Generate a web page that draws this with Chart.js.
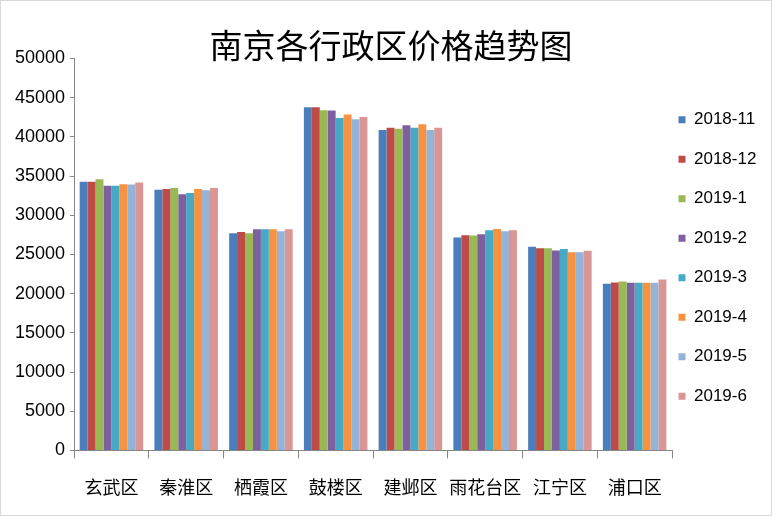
<!DOCTYPE html>
<html>
<head>
<meta charset="utf-8">
<script src="https://cdn.jsdelivr.net/npm/chart.js@4/dist/chart.umd.min.js"></script>
<style>
  html, body { margin: 0; padding: 0; background: #ffffff; }
  #wrap { width: 772px; height: 516px; position: relative; }
</style>
</head>
<body>
<div id="wrap"><canvas id="c" width="772" height="516"></canvas></div>
<script>
const categories = ['玄武区', '秦淮区', '栖霞区', '鼓楼区', '建邺区', '雨花台区', '江宁区', '浦口区'];
const seriesNames = ['2018-11', '2018-12', '2019-1', '2019-2', '2019-3', '2019-4', '2019-5', '2019-6'];
const s201811 = [34290, 33240, 27720, 43780, 40880, 27150, 25970, 21250];
const s201812 = [34290, 33360, 27880, 43780, 41180, 27460, 25800, 21420];
const s20191  = [34600, 33490, 27720, 43400, 41050, 27410, 25800, 21540];
const s20192  = [33780, 32690, 28230, 43350, 41480, 27590, 25500, 21390];
const s20193  = [33780, 32850, 28230, 42420, 41180, 28100, 25680, 21390];
const s20194  = [33960, 33360, 28230, 42840, 41610, 28260, 25290, 21390];
const s20195  = [33910, 33200, 27970, 42250, 40880, 27970, 25290, 21390];
const s20196  = [34170, 33490, 28230, 42540, 41180, 28100, 25460, 21800];
const yTicks = [0, 5000, 10000, 15000, 20000, 25000, 30000, 35000, 40000, 45000, 50000];
const titleText = '南京各行政区价格趋势图';

const seriesValues = [s201811, s201812, s20191, s20192, s20193, s20194, s20195, s20196];
const colors = ['#4A7EBB', '#BE4B48', '#98B954', '#7D60A0', '#46AAC5', '#F69240', '#95B3D7', '#D99694'];

const bgPlugin = {
  id: 'bg',
  beforeDraw(chart) {
    const ctx = chart.ctx;
    ctx.save();
    ctx.fillStyle = '#ffffff';
    ctx.fillRect(0, 0, chart.width, chart.height);
    ctx.strokeStyle = '#d9d9d9';
    ctx.lineWidth = 1;
    ctx.strokeRect(0.5, 0.5, chart.width - 1, chart.height - 1);
    ctx.restore();
  }
};
const legendShift = {
  id: 'legendShift',
  afterLayout(chart) {
    if (chart.legend) { chart.legend.left -= 16; }
  }
};

new Chart(document.getElementById('c'), {
  type: 'bar',
  data: {
    labels: categories,
    datasets: seriesNames.map((n, i) => ({
      label: n,
      data: seriesValues[i],
      backgroundColor: colors[i],
      borderWidth: 0,
      categoryPercentage: 0.85,
      barPercentage: 1.0
    }))
  },
  options: {
    responsive: false,
    animation: false,
    devicePixelRatio: 1,
    layout: { padding: { left: 10, right: 0, top: 0, bottom: 0 } },
    plugins: {
      title: {
        display: true,
        text: titleText,
        color: '#000000',
        font: { family: '"Noto Sans CJK SC", sans-serif', size: 33, weight: 'normal', lineHeight: 1 },
        padding: { top: 28.5, bottom: -3 }
      },
      legend: {
        display: true,
        position: 'right',
        align: 'center',
        maxWidth: 100,
        labels: {
          color: '#000000',
          font: { family: '"Liberation Sans", sans-serif', size: 17 },
          boxWidth: 7,
          boxHeight: 7,
          padding: 22.5
        }
      },
      tooltip: { enabled: false }
    },
    scales: {
      x: {
        offset: true,
        grid: {
          display: true,
          offset: true,
          drawOnChartArea: false,
          drawTicks: true,
          tickLength: 8,
          color: '#868686'
        },
        border: { display: true, color: '#868686', width: 1 },
        ticks: {
          color: '#000000',
          font: { family: '"Noto Sans CJK SC", sans-serif', size: 18 },
          padding: 18,
          maxRotation: 0,
          autoSkip: false
        }
      },
      y: {
        min: 0,
        max: 50000,
        afterBuildTicks(scale) { scale.ticks = yTicks.map(v => ({ value: v })); },
        grid: {
          display: true,
          drawOnChartArea: false,
          drawTicks: true,
          tickLength: 4,
          color: '#868686'
        },
        border: { display: true, color: '#868686', width: 1 },
        ticks: {
          color: '#000000',
          font: { family: '"Liberation Sans", sans-serif', size: 18 },
          padding: 5,
          callback: (v) => String(v)
        }
      }
    }
  },
  plugins: [bgPlugin, legendShift]
});
</script>
</body>
</html>
